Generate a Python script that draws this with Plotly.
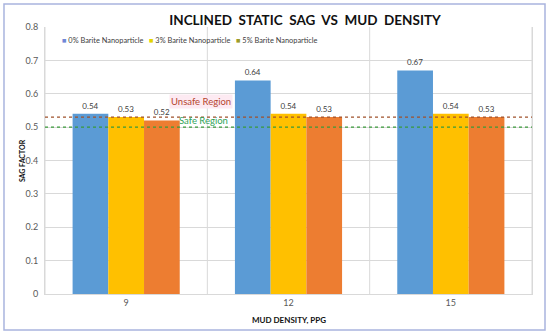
import plotly.graph_objects as go

categories = ["9", "12", "15"]
series_names = ["0% Barite Nanoparticle", "3% Barite Nanoparticle", "5% Barite Nanoparticle"]
vals_0 = [0.54, 0.64, 0.67]
vals_3 = [0.53, 0.54, 0.54]
vals_5 = [0.52, 0.53, 0.53]
colors = ["#5B9BD5", "#FFC000", "#ED7D31"]
legend_colors = ["#6F87D6", "#E3D400", "#9C9C2A"]
unsafe_level = 0.53
safe_level = 0.50
y_ticks = [0, 0.1, 0.2, 0.3, 0.4, 0.5, 0.6, 0.7, 0.8]

FONT = "Lato"
fig = go.Figure()
for name, vals, col in zip(series_names, [vals_0, vals_3, vals_5], colors):
    fig.add_trace(go.Bar(
        x=categories, y=vals, name=name, marker=dict(color=col, line=dict(width=0)),
        text=[f"{v:.2f}" for v in vals], textposition="outside", showlegend=False,
        textfont=dict(size=8, color="#404040", family=FONT), cliponaxis=False,
    ))

shapes = []
for xv in [-0.5, 0.5, 1.5, 2.5]:
    shapes.append(dict(type="line", xref="x", yref="y", x0=xv, x1=xv, y0=0, y1=0.8,
                       line=dict(color="#D9D9D9", width=1), layer="below"))
shapes.append(dict(type="line", xref="paper", yref="y", x0=0, x1=1, y0=unsafe_level, y1=unsafe_level,
                   line=dict(color="#A0522D", width=1.2, dash="dot")))
shapes.append(dict(type="line", xref="paper", yref="y", x0=0, x1=1, y0=safe_level, y1=safe_level,
                   line=dict(color="#3A9A3A", width=1.2, dash="dot")))
shapes.append(dict(type="rect", xref="paper", yref="paper", x0=-0.0842, x1=1.0267, y0=-0.135, y1=1.086,
                   line=dict(color="#A9B4DE", width=1.5), fillcolor="rgba(0,0,0,0)"))

annotations = [
    dict(text="Unsafe Region", x=0.655, xref="x", y=0.576, yref="y", xanchor="right", yanchor="middle",
         showarrow=False, font=dict(size=9.5, color="#B5462E", family=FONT), bgcolor="#FDEAF2"),
    dict(text="Safe Region", x=0.64, xref="x", y=0.519, yref="y", xanchor="right", yanchor="middle",
         showarrow=False, font=dict(size=9.5, color="#2FA35A", family=FONT)),
    dict(text="<b>SAG FACTOR</b>", x=-0.048, xref="paper", y=0.5, yref="paper", textangle=-90,
         xanchor="center", yanchor="middle", showarrow=False, font=dict(size=7, color="#111111", family=FONT)),
    dict(text="<b>MUD DENSITY, PPG</b>", x=0.5, xref="paper", y=-0.097, yref="paper",
         xanchor="center", yanchor="middle", showarrow=False, font=dict(size=8, color="#111111", family=FONT)),
]
legend_x0 = 0.03
legend_step = 87 / 487
for i, (name, lc) in enumerate(zip(series_names, legend_colors)):
    annotations.append(dict(
        text=f'<span style="color:{lc}">■</span> {name}', x=legend_x0 + i * legend_step, xref="paper",
        y=0.95, yref="paper", xanchor="left", yanchor="middle", showarrow=False,
        font=dict(size=7.4, color="#404040", family=FONT)))

fig.update_layout(
    width=550, height=334,
    margin=dict(l=45, r=18, t=27, b=40),
    paper_bgcolor="white", plot_bgcolor="white",
    font=dict(family=FONT, color="#595959"),
    showlegend=False,
    title=dict(text="<b>INCLINED  STATIC  SAG  VS  MUD  DENSITY</b>", x=305 / 550, xref="container",
               xanchor="center", y=0.952, yref="container", font=dict(size=13.5, color="#111111", family=FONT)),
    barmode="group", bargap=0.34, bargroupgap=0,
    xaxis=dict(tickfont=dict(size=9, color="#595959"), showgrid=False, showline=True,
               linecolor="#D9D9D9", ticks="", range=[-0.5, 2.5], automargin=False),
    yaxis=dict(range=[0, 0.8], tickvals=y_ticks, ticktext=[f"{t:g}" for t in y_ticks],
               tickfont=dict(size=9, color="#595959"), gridcolor="#D9D9D9", zeroline=False,
               showline=True, linecolor="#D9D9D9", mirror=True, automargin=False,
               ticks="outside", ticklen=4, tickcolor="rgba(0,0,0,0)"),
    shapes=shapes, annotations=annotations,
)
fig.write_html("out.html", config={"displayModeBar": False},
               post_script="document.body.style.margin='0';document.body.style.padding='0';")
